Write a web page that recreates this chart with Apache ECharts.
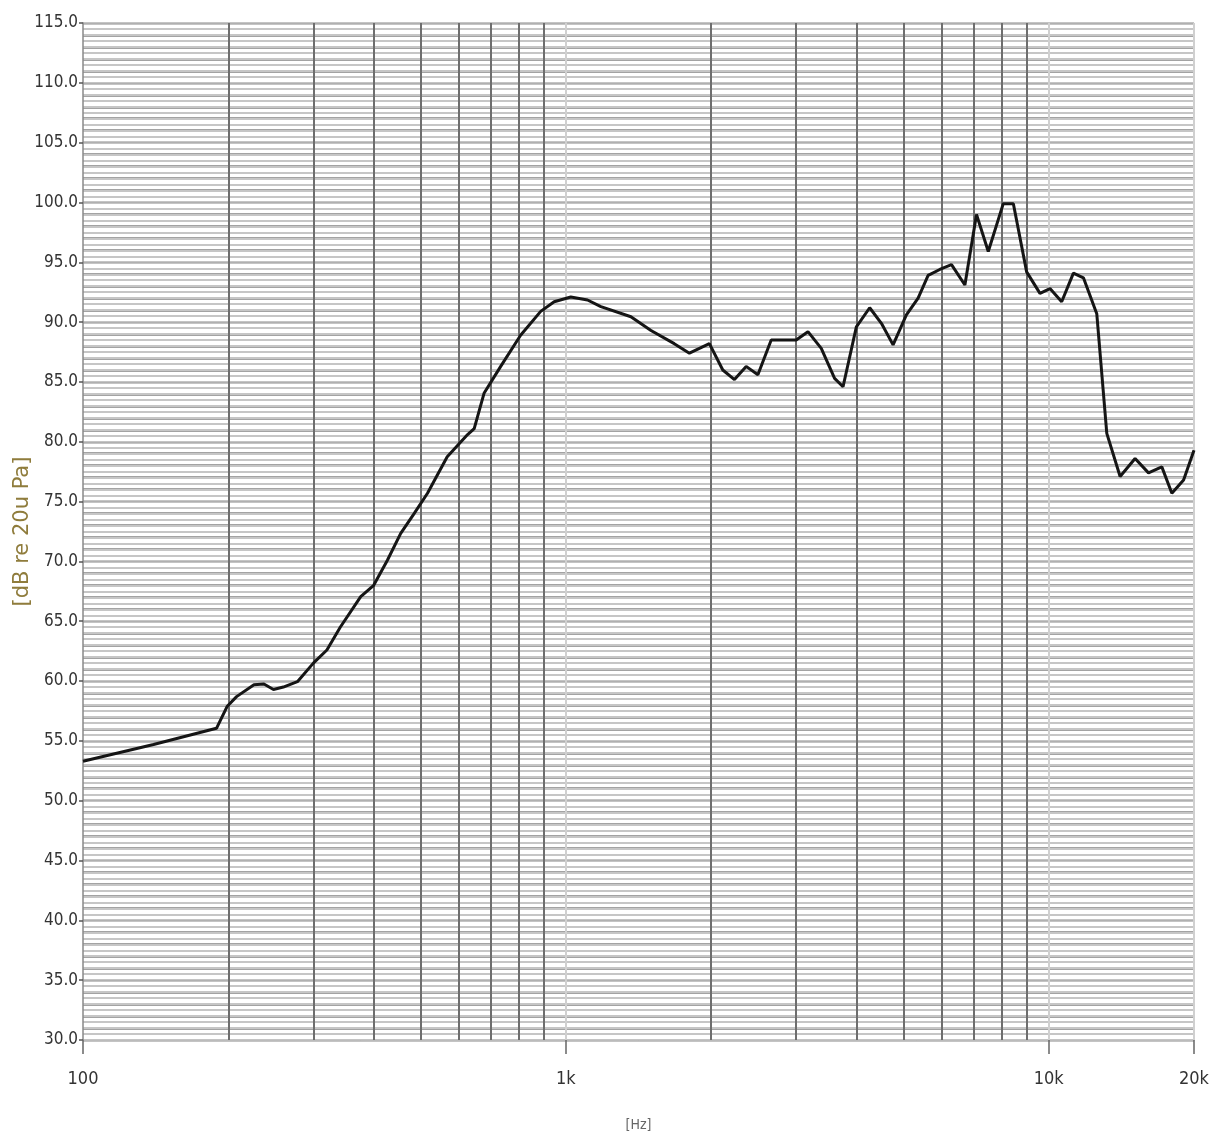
<!DOCTYPE html>
<html>
<head>
<meta charset="utf-8">
<script src="https://cdn.jsdelivr.net/npm/echarts@6/dist/echarts.min.js"></script>
<style>
html,body{margin:0;padding:0;background:#fff;}
#chart{width:1226px;height:1141px;}
</style>
</head>
<body>
<div id="chart"></div>
<script>
// Frequency (Hz) and SPL (dB re 20uPa)
const freqs = [100,140,189,199,208,226,237,248,260,278,300,320,341,376,400,427,455,485,517,568,626,646,677,733,806,887,946,1024,1109,1182,1364,1501,1677,1803,1983,2114,2235,2363,2499,2663,3000,3173,3381,3603,3751,3997,4259,4504,4762,5074,5366,5628,5950,6292,6707,7089,7498,8054,8451,9003,9594,10064,10641,11253,11804,12579,13195,14060,15101,16098,17155,17996,19031,20000];
const levels = [53.3,54.7,56.05,57.9,58.7,59.7,59.75,59.3,59.5,59.95,61.5,62.6,64.5,67.05,68.0,70.1,72.35,74.0,75.7,78.75,80.6,81.1,84.05,86.3,88.9,90.9,91.7,92.1,91.85,91.3,90.45,89.3,88.2,87.4,88.2,86.0,85.2,86.3,85.6,88.5,88.5,89.2,87.8,85.3,84.6,89.6,91.2,89.9,88.1,90.6,92.0,93.9,94.4,94.8,93.1,99.0,95.9,99.9,99.9,94.2,92.4,92.8,91.7,94.1,93.7,90.7,80.7,77.1,78.6,77.4,77.9,75.7,76.8,79.3];
// Vertical grid frequencies
const minorFreqs = [200,300,400,500,600,700,800,900,2000,3000,4000,5000,6000,7000,8000,9000];
const decadeFreqs = [1000,10000,20000];
const yMin = 30, yMax = 115;
const xMin = 100, xMax = 20000;

const chart = echarts.init(document.getElementById('chart'), null, {renderer:'canvas'});
const pts = freqs.map((f,i)=>[f, levels[i]]);
const labelFont = '"Liberation Sans Narrow","DejaVu Sans Condensed","Liberation Sans",sans-serif';

chart.setOption({
  animation:false,
  backgroundColor:'#fff',
  grid:{left:83,right:32,top:23,bottom:101,containLabel:false,outerBoundsMode:'none'},
  xAxis:{
    type:'log', logBase:10, min:xMin, max:xMax,
    name:'[Hz]', nameLocation:'middle', nameGap:78, nameMoveOverlap:false,
    nameTextStyle:{color:'#666',fontSize:14,fontFamily:labelFont},
    axisLine:{show:true,lineStyle:{color:'#bbb',width:1}},
    axisTick:{show:true,inside:false,length:14,lineStyle:{color:'#666',width:1.5}},
    axisLabel:{show:true,margin:30,color:'#333',fontSize:18,fontFamily:labelFont,showMaxLabel:true,showMinLabel:true,
      formatter:v=> v>=1000 ? (Math.round(v/1000))+'k' : String(Math.round(v))},
    splitLine:{show:false}
  },
  yAxis:[{
    type:'value', min:yMin, max:yMax, interval:5,
    name:'[dB re 20u Pa]', nameLocation:'middle', nameGap:50, nameRotate:90, nameMoveOverlap:false,
    nameTextStyle:{color:'#8f7c3c',fontSize:21,fontFamily:'"DejaVu Sans",sans-serif'},
    axisLine:{show:true,lineStyle:{color:'#888',width:1.5}},
    axisTick:{show:true,length:4,lineStyle:{color:'#555',width:1.5}},
    axisLabel:{color:'#333',fontSize:17,fontFamily:labelFont,margin:5,formatter:v=>v.toFixed(1)},
    splitLine:{show:true,lineStyle:{color:'#b0b0b0',width:2.5}},
    minorTick:{show:false,splitNumber:5},
    minorSplitLine:{show:true,lineStyle:{color:'#858585',width:2.5}}
  },{
    type:'value', min:yMin, max:yMax, interval:5, position:'left',
    axisLine:{show:false}, axisTick:{show:false}, axisLabel:{show:false},
    splitLine:{show:false},
    minorTick:{show:false,splitNumber:10},
    minorSplitLine:{show:true,lineStyle:{color:'#c6c6c6',width:2}},
    z:0
  }],
  series:[{
    type:'line', yAxisIndex:0, data:pts, symbol:'none', smooth:false,
    lineStyle:{color:'#151515',width:3},
    z:5,
    markLine:{
      silent:true, symbol:['none','none'], label:{show:false},
      lineStyle:{type:'solid'},
      data: minorFreqs.map(f=>({xAxis:f,lineStyle:{color:'#6e6e6e',width:2,type:'solid'}}))
        .concat(decadeFreqs.map(f=>({xAxis:f,lineStyle:{color:'#d0d0d0',width:2,type:'solid'}})))
    }
  }]
});
</script>
</body>
</html>
